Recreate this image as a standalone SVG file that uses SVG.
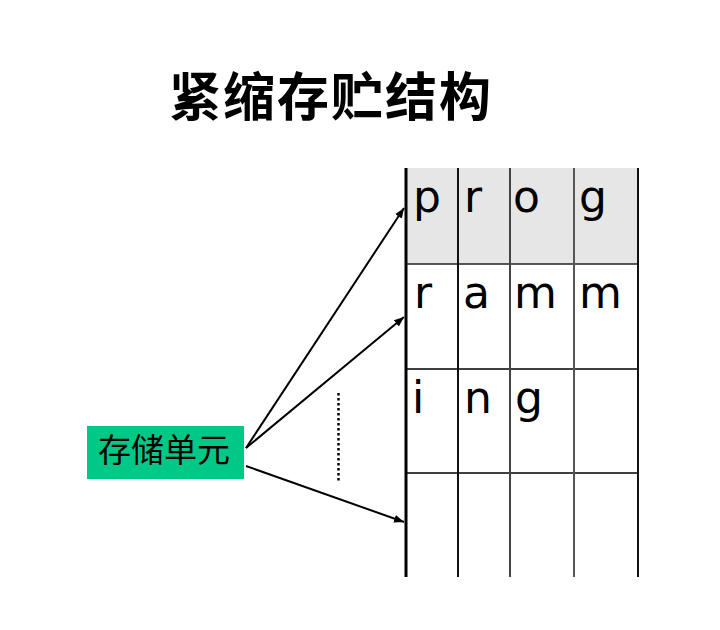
<svg xmlns="http://www.w3.org/2000/svg" width="720" height="630" viewBox="0 0 720 630">
<style>
.t{font-family:"Noto Sans CJK SC",sans-serif;}
.c{font-family:"DejaVu Sans",sans-serif;font-size:44px;fill:#000;}
.conn{stroke:#000;stroke-width:2;fill:none;}
</style>
<defs>
<marker id="ah" viewBox="0 0 10 10" refX="10" refY="5" markerWidth="10" markerHeight="10" markerUnits="userSpaceOnUse" orient="auto">
<path d="M0,1 L10,5 L0,9 z" fill="#000"/>
</marker>
</defs>
<rect width="720" height="630" fill="#fff"/>
<text class="t" x="331" y="116" font-size="52" font-weight="700" text-anchor="middle" letter-spacing="2">紧缩存贮结构</text>
<g id="table">
<rect x="406" y="168" width="232" height="96" fill="#e6e6e6"/>
<line x1="406" y1="264" x2="638" y2="264" stroke="#222" stroke-width="1.5"/>
<line x1="406" y1="369" x2="638" y2="369" stroke="#000" stroke-width="1.5"/>
<line x1="406" y1="473" x2="638" y2="473" stroke="#000" stroke-width="1.5"/>
<line x1="406" y1="168" x2="406" y2="577" stroke="#000" stroke-width="3"/>
<line x1="458" y1="168" x2="458" y2="577" stroke="#111" stroke-width="2"/>
<line x1="510" y1="168" x2="510" y2="577" stroke="#444" stroke-width="2"/>
<line x1="574" y1="168" x2="574" y2="577" stroke="#555" stroke-width="2"/>
<line x1="638" y1="168" x2="638" y2="577" stroke="#111" stroke-width="2"/>
<text class="c" x="413" y="212">p</text>
<text class="c" x="464" y="212">r</text>
<text class="c" x="513" y="212">o</text>
<text class="c" x="579" y="212">g</text>
<text class="c" x="414" y="308">r</text>
<text class="c" x="463" y="308">a</text>
<text class="c" x="514" y="308">m</text>
<text class="c" x="579" y="308">m</text>
<text class="c" x="412" y="413">i</text>
<text class="c" x="464" y="413">n</text>
<text class="c" x="515" y="413">g</text>
</g>
<g id="node-storage">
<rect x="87" y="426" width="157" height="53" fill="#00c887"/>
<text class="t" x="164" y="462" font-size="33" text-anchor="middle">存储单元</text>
</g>
<g id="connectors">
<line class="conn" x1="246" y1="448" x2="404" y2="208" marker-end="url(#ah)"/>
<line class="conn" x1="246" y1="448" x2="404" y2="317" marker-end="url(#ah)"/>
<line class="conn" x1="246" y1="466" x2="404" y2="522" marker-end="url(#ah)"/>
</g>
<line x1="338.5" y1="393" x2="338.5" y2="482" stroke="#000" stroke-width="2.5" stroke-dasharray="2.5,2.5"/>
</svg>
